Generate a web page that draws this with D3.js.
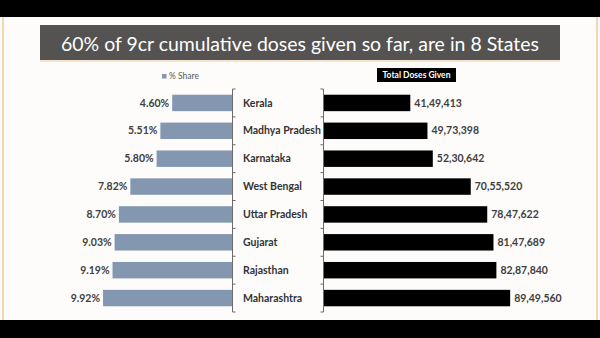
<!DOCTYPE html>
<html><head><meta charset="utf-8">
<script src="https://cdn.jsdelivr.net/npm/d3@7"></script>
<style>html,body{margin:0;padding:0;background:#fff;}svg{display:block;}</style>
</head><body>
<svg id="c" width="600" height="338"></svg>
<script>
const titleText = "60% of 9cr cumulative doses given so far, are in 8 States";
const states = ["Kerala","Madhya Pradesh","Karnataka","West Bengal","Uttar Pradesh","Gujarat","Rajasthan","Maharashtra"];
const sharePct = [4.60,5.51,5.80,7.82,8.70,9.03,9.19,9.92];
const doses = [4149413,4973398,5230642,7055520,7847622,8147689,8287840,8949560];
const legendLeft = "% Share";
const legendRight = "Total Doses Given";

function indianFormat(n){
  const s = String(n);
  const last3 = s.slice(-3);
  let rest = s.slice(0,-3);
  const parts = [];
  while(rest.length>2){parts.unshift(rest.slice(-2)); rest = rest.slice(0,-2);}
  if(rest.length) parts.unshift(rest);
  return parts.length ? parts.join(",")+","+last3 : last3;
}

const svg = d3.select("#c");
const font = "Lato, 'Open Sans', sans-serif";

// slide frame
svg.append("rect").attr("x",0).attr("y",0).attr("width",600).attr("height",338).attr("fill","#fdfcfb");
svg.append("rect").attr("x",2).attr("y",17).attr("width",2).attr("height",303).attr("fill","#f6d6b2");
svg.append("rect").attr("x",596).attr("y",17).attr("width",2).attr("height",303).attr("fill","#f6d6b2");
svg.append("rect").attr("x",0).attr("y",0).attr("width",600).attr("height",17).attr("fill","#000");
svg.append("rect").attr("x",0).attr("y",320).attr("width",600).attr("height",18).attr("fill","#000");

// title box
svg.append("rect").attr("x",40).attr("y",60).attr("width",520).attr("height",2).attr("fill","#f9e0c8");
svg.append("rect").attr("x",40).attr("y",25).attr("width",520).attr("height",35).attr("fill","#545352");
const t = svg.append("text").attr("x",300).attr("y",51).attr("text-anchor","middle")
  .attr("fill","#fff").attr("font-family",font).attr("font-size",20).text(titleText);
const tw = t.node().getComputedTextLength();
t.attr("font-size", 20*478/tw);

// scales
const y = d3.scaleBand().domain(states).range([89,312]).padding(0);
const barH = y.bandwidth()*0.59;
const xL = d3.scaleLinear().domain([0,10]).range([232,102]);
const xR = d3.scaleLinear().domain([0,9000000]).range([324,511.2]);

const data = states.map((s,i)=>({s, p:sharePct[i], d:doses[i]}));

// left bars
svg.append("g").selectAll("rect").data(data).join("rect")
  .attr("x",d=>xL(d.p)).attr("width",d=>xL(0)-xL(d.p))
  .attr("y",d=>y(d.s)+(y.bandwidth()-barH)/2).attr("height",barH)
  .attr("fill","#8497b0");
svg.append("g").selectAll("text").data(data).join("text")
  .attr("x",d=>xL(d.p)-3).attr("y",d=>y(d.s)+y.bandwidth()/2).attr("dy","0.35em")
  .attr("text-anchor","end").attr("font-family",font).attr("font-weight","bold")
  .attr("font-size",10.5).attr("fill","#404040").text(d=>d.p.toFixed(2)+"%");

// right bars
svg.append("g").selectAll("rect").data(data).join("rect")
  .attr("x",xR(0)).attr("width",d=>xR(d.d)-xR(0))
  .attr("y",d=>y(d.s)+(y.bandwidth()-barH)/2).attr("height",barH)
  .attr("fill","#000");
svg.append("g").selectAll("text").data(data).join("text")
  .attr("x",d=>xR(d.d)+4).attr("y",d=>y(d.s)+y.bandwidth()/2).attr("dy","0.35em")
  .attr("font-family",font).attr("font-weight","bold")
  .attr("font-size",10.5).attr("fill","#404040").text(d=>indianFormat(d.d));

// category labels
svg.append("g").selectAll("text").data(data).join("text")
  .attr("x",243).attr("y",d=>y(d.s)+y.bandwidth()/2).attr("dy","0.35em")
  .attr("font-family",font).attr("font-weight","bold")
  .attr("font-size",10.5).attr("fill","#333").text(d=>d.s);

// axes (category axes with ticks at band boundaries)
const bounds = states.map(s=>y(s)).concat([y.range()[1]]);
function catAxis(x0, dir){
  const g = svg.append("g").attr("stroke","#6b6b6b").attr("stroke-width",1);
  g.append("line").attr("x1",x0).attr("x2",x0).attr("y1",y.range()[0]).attr("y2",y.range()[1]);
  g.selectAll("line.t").data(bounds).join("line").attr("class","t")
    .attr("x1",x0).attr("x2",x0+dir*3).attr("y1",d=>d).attr("y2",d=>d);
}
catAxis(232.5, 1);
catAxis(323.5, -1);

// legends
svg.append("rect").attr("x",162).attr("y",74).attr("width",4.5).attr("height",4.5).attr("fill","#8497b0");
svg.append("text").attr("x",169).attr("y",76.5).attr("dy","0.35em").attr("font-family",font)
  .attr("font-size",8.5).attr("fill","#595959").text(legendLeft);
svg.append("rect").attr("x",377).attr("y",68).attr("width",79).attr("height",14).attr("fill","#000");
svg.append("text").attr("x",416.5).attr("y",75).attr("dy","0.35em").attr("text-anchor","middle")
  .attr("font-family",font).attr("font-weight","bold").attr("font-size",8.5).attr("fill","#fff").text(legendRight);
</script>
</body></html>
